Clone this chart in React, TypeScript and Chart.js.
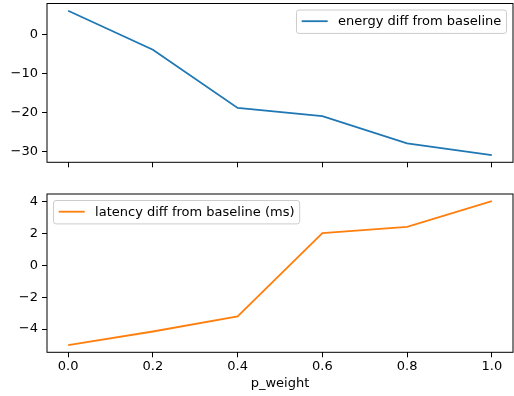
import React, { useEffect, useRef } from "react";
import { Chart, registerables } from "chart.js";

Chart.register(...registerables);

const pWeight = [0, 0.2, 0.4, 0.6, 0.8, 1.0];
const energyDiff = [6, -4, -18.9, -21, -28, -31];
const latencyDiff = [-5, -4.15, -3.2, 2, 2.4, 4];
const xTicks = [0, 0.2, 0.4, 0.6, 0.8, 1.0];
const energyTicks = [-30, -20, -10, 0];
const latencyTicks = [-4, -2, 0, 2, 4];
const energyLabel = "energy diff from baseline";
const latencyLabel = "latency diff from baseline (ms)";
const xTitle = "p_weight";

const FONT = "DejaVu Sans";
const FS = 13;
const W = 514;

const fmtY = (v: number) => {
  const s = String(Math.round(v * 100) / 100);
  return s.replace("-", "\u2212");
};

const padRange = (vals: number[], m = 0.05) => {
  const lo = Math.min(...vals);
  const hi = Math.max(...vals);
  const r = hi - lo;
  return { min: lo - r * m, max: hi + r * m };
};

const framePlugin = {
  id: "frame",
  afterDatasetsDraw(chart: any) {
    const { ctx, chartArea } = chart;
    ctx.save();
    ctx.strokeStyle = "#000";
    ctx.lineWidth = 1;
    ctx.strokeRect(chartArea.left, chartArea.top, chartArea.right - chartArea.left, chartArea.bottom - chartArea.top);
    ctx.restore();
  },
};

const legendPlugin = {
  id: "mplLegend",
  afterDraw(chart: any, _args: any, opts: any) {
    const { ctx, chartArea } = chart;
    const ds = chart.data.datasets[0];
    const fs = FS;
    const pad = fs * 0.4;
    const handle = fs * 2;
    const gap = fs * 0.8;
    const axPad = fs * 0.5;
    ctx.save();
    ctx.font = `${fs}px "${FONT}"`;
    const tw = ctx.measureText(ds.label).width;
    const bw = pad + handle + gap + tw + pad;
    const bh = 23.4;
    const left = opts.loc === "upper right" ? chartArea.right - axPad - bw : chartArea.left + axPad;
    const top = chartArea.top + axPad;
    ctx.beginPath();
    const r = 2.5;
    ctx.moveTo(left + r, top);
    ctx.lineTo(left + bw - r, top);
    ctx.arcTo(left + bw, top, left + bw, top + r, r);
    ctx.lineTo(left + bw, top + bh - r);
    ctx.arcTo(left + bw, top + bh, left + bw - r, top + bh, r);
    ctx.lineTo(left + r, top + bh);
    ctx.arcTo(left, top + bh, left, top + bh - r, r);
    ctx.lineTo(left, top + r);
    ctx.arcTo(left, top, left + r, top, r);
    ctx.closePath();
    ctx.fillStyle = "rgba(255,255,255,0.8)";
    ctx.fill();
    ctx.strokeStyle = "#cccccc";
    ctx.lineWidth = 1;
    ctx.stroke();
    const cy = top + bh / 2 - 0.5;
    ctx.beginPath();
    ctx.moveTo(left + pad, cy);
    ctx.lineTo(left + pad + handle, cy);
    ctx.strokeStyle = ds.borderColor;
    ctx.lineWidth = ds.borderWidth;
    ctx.stroke();
    ctx.fillStyle = "#000";
    ctx.textBaseline = "middle";
    ctx.textAlign = "left";
    ctx.fillText(ds.label, left + pad + handle + gap, cy + 0.5);
    ctx.restore();
  },
};

function makeConfig(opts: {
  label: string;
  values: number[];
  color: string;
  yTicks: number[];
  showX: boolean;
  loc: string;
  padTop: number;
  xHeight: number;
}) {
  const yr = padRange(opts.values);
  const xr = padRange(pWeight);
  const tickFont = { family: FONT, size: FS };
  return {
    type: "line",
    data: {
      datasets: [
        {
          label: opts.label,
          data: pWeight.map((x, i) => ({ x, y: opts.values[i] })),
          borderColor: opts.color,
          backgroundColor: opts.color,
          borderWidth: 1.8,
          pointRadius: 0,
          tension: 0,
          fill: false,
        },
      ],
    },
    options: {
      responsive: false,
      maintainAspectRatio: false,
      animation: false,
      events: [],
      layout: { padding: { left: 0, right: 1, top: opts.padTop, bottom: 0 } },
      plugins: {
        legend: { display: false },
        tooltip: { enabled: false },
        mplLegend: { loc: opts.loc },
      },
      scales: {
        x: {
          type: "linear",
          min: xr.min,
          max: xr.max,
          afterBuildTicks: (s: any) => {
            s.ticks = xTicks.map((v) => ({ value: v }));
          },
          afterFit: (s: any) => {
            s.height = opts.xHeight;
            s.paddingLeft = 0;
            s.paddingRight = 0;
          },
          ticks: {
            display: opts.showX,
            callback: (v: number) => Number(v).toFixed(1),
            font: tickFont,
            color: "#000",
            padding: 2,
            maxRotation: 0,
            autoSkip: false,
          },
          grid: {
            display: true,
            drawOnChartArea: false,
            drawTicks: true,
            tickLength: 5,
            color: "#000",
            lineWidth: 1,
          },
          border: { display: false },
          title: {
            display: opts.showX,
            text: xTitle,
            font: tickFont,
            color: "#000",
            padding: { top: 0, bottom: 5 },
          },
        },
        y: {
          type: "linear",
          min: yr.min,
          max: yr.max,
          afterBuildTicks: (s: any) => {
            s.ticks = opts.yTicks.map((v) => ({ value: v }));
          },
          afterFit: (s: any) => {
            s.width = 47;
            s.paddingTop = 0;
            s.paddingBottom = 0;
          },
          ticks: {
            callback: (v: number) => fmtY(Number(v)),
            font: tickFont,
            color: "#000",
            padding: 4,
            autoSkip: false,
          },
          grid: {
            display: true,
            drawOnChartArea: false,
            drawTicks: true,
            tickLength: 5,
            color: "#000",
            lineWidth: 1,
          },
          border: { display: false },
        },
      },
    },
    plugins: [framePlugin, legendPlugin],
  };
}

export default function App() {
  const topRef = useRef<HTMLCanvasElement>(null);
  const botRef = useRef<HTMLCanvasElement>(null);

  useEffect(() => {
    const top = new Chart(
      topRef.current as HTMLCanvasElement,
      makeConfig({
        label: energyLabel,
        values: energyDiff,
        color: "#1f77b4",
        yTicks: energyTicks,
        showX: false,
        loc: "upper right",
        padTop: 3.5,
        xHeight: 178 - 162.3,
      }) as any
    );
    const bot = new Chart(
      botRef.current as HTMLCanvasElement,
      makeConfig({
        label: latencyLabel,
        values: latencyDiff,
        color: "#ff7f0e",
        yTicks: latencyTicks,
        showX: true,
        loc: "upper left",
        padTop: 194 - 178,
        xHeight: 218 - (352.3 - 178),
      }) as any
    );
    return () => {
      top.destroy();
      bot.destroy();
    };
  }, []);

  return (
    <div style={{ position: "absolute", left: 0, top: 0, width: W, height: 396, background: "#fff" }}>
      <canvas ref={topRef} width={W} height={178} style={{ position: "absolute", left: 0, top: 0, display: "block" }} />
      <canvas ref={botRef} width={W} height={218} style={{ position: "absolute", left: 0, top: 178, display: "block" }} />
    </div>
  );
}
